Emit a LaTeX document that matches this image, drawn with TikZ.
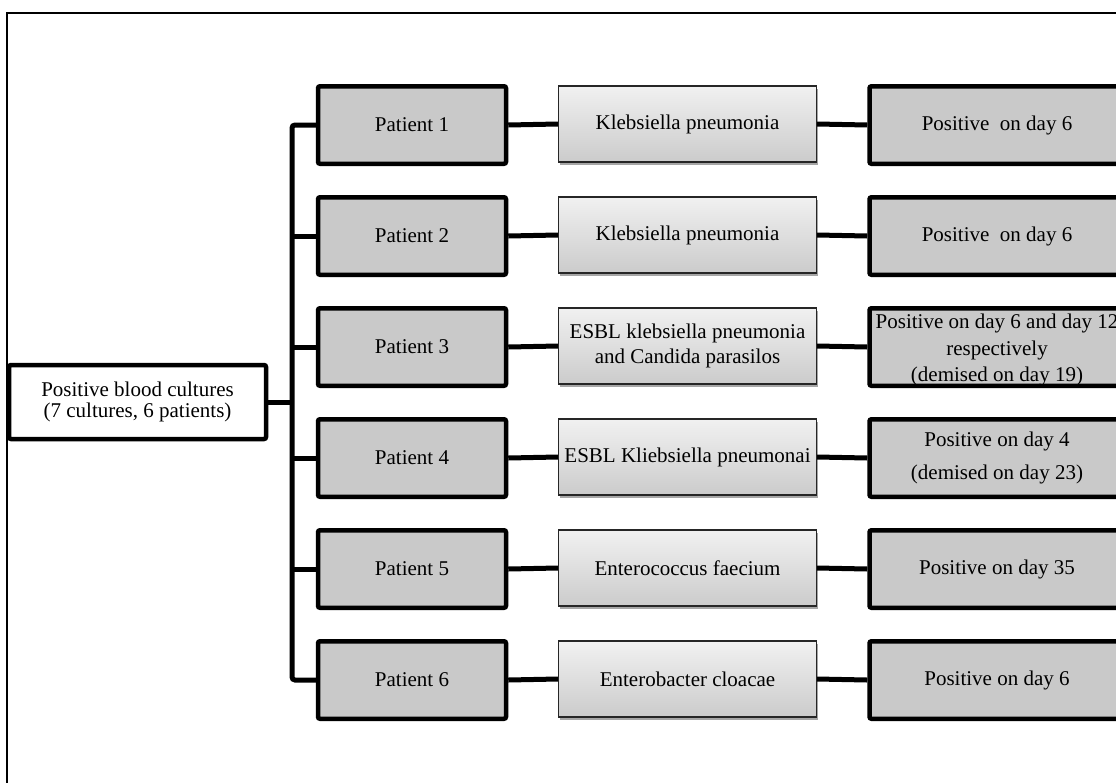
\documentclass[tikz,border=0pt]{standalone}
\usepackage{fontspec}
\setmainfont{Liberation Serif}
\usetikzlibrary{shadows}
\definecolor{boxgray}{HTML}{C9C9C9}
\definecolor{shadetop}{HTML}{F1F1F1}
\definecolor{shadebot}{HTML}{CBCBCB}
\tikzset{
  txt/.style={font=\fontsize{21}{25}\selectfont, align=center, text=black, inner sep=0pt},
  heavybox/.style={txt, draw=black, line width=4.5pt, rounded corners=2pt, fill=boxgray,
    minimum height=77.5pt},
  patientbox/.style={heavybox, minimum width=188pt},
  resultbox/.style={heavybox, minimum width=255pt},
  rootbox/.style={txt, draw=black, line width=4.5pt, rounded corners=2pt, fill=white,
    minimum width=257pt, minimum height=74pt, font=\fontsize{21}{21}\selectfont},
  organismbox/.style={txt, draw=black!85, line width=1.3pt, top color=shadetop, bottom color=shadebot,
    minimum width=258pt, minimum height=76pt,
    drop shadow={shadow xshift=1.5pt, shadow yshift=-3pt, opacity=0.35, fill=black}},
  link/.style={line width=5pt, draw=black},
}
\begin{document}
\begin{tikzpicture}[x=1pt, y=-1pt]
  \useasboundingbox (0,0) rectangle (1116,782);
  \clip (0,0) rectangle (1116,782);
  \fill[white] (0,0) rectangle (1116,782);

  % outer frame of the figure
  \draw[line width=1.2pt] (7,13) rectangle (1150,820);

  % root node
  \node[rootbox] (root) at (137.5,402) {Positive blood cultures\\(7 cultures, 6 patients)};

  % patient column
  \node[patientbox] (p1) at (412,125) {Patient 1};
  \node[patientbox] (p2) at (412,236) {Patient 2};
  \node[patientbox] (p3) at (412,347) {Patient 3};
  \node[patientbox] (p4) at (412,458) {Patient 4};
  \node[patientbox] (p5) at (412,569) {Patient 5};
  \node[patientbox] (p6) at (412,680) {Patient 6};

  % organism column
  \node[organismbox] (o1) at (687.5,124) {Klebsiella pneumonia};
  \node[organismbox] (o2) at (687.5,235) {Klebsiella pneumonia};
  \node[organismbox] (o3) at (687.5,346) {ESBL klebsiella pneumonia\\and Candida parasilos};
  \node[organismbox] (o4) at (687.5,457) {ESBL Kliebsiella pneumonai};
  \node[organismbox] (o5) at (687.5,568) {Enterococcus faecium};
  \node[organismbox] (o6) at (687.5,679) {Enterobacter cloacae};

  % result column
  \node[resultbox] (r1) at (997,125) {Positive\ \ on day 6};
  \node[resultbox] (r2) at (997,236) {Positive\ \ on day 6};
  \node[resultbox] (r3) at (997,347) {};
  \node[txt, font=\fontsize{21}{26.5}\selectfont] (r3t) at (997,350)
    {Positive on day 6 and day 12\\respectively\\(demised on day 19)};
  \node[resultbox, font=\fontsize{21}{33}\selectfont] (r4) at (997,458)
    {Positive on day 4\\(demised on day 23)};
  \node[resultbox] (r5) at (997,569) {Positive on day 35};
  \node[resultbox] (r6) at (997,680) {Positive on day 6};

  % spine linking the root to every patient
  \coordinate (spine) at (292,402);
  \draw[link, rounded corners=3pt] (p1.west) -- (p1.west -| spine) -- (p6.west -| spine) -- (p6.west);
  \draw[link] (root.east) -- (spine);
  \foreach \k in {2,3,4,5} {
    \draw[link] (p\k.west -| spine) -- (p\k.west);
  }

  % row links
  \foreach \k in {1,...,6} {
    \draw[link] (p\k.east) -- (o\k.west);
    \draw[link] (o\k.east) -- (r\k.west);
  }
\end{tikzpicture}
\end{document}
